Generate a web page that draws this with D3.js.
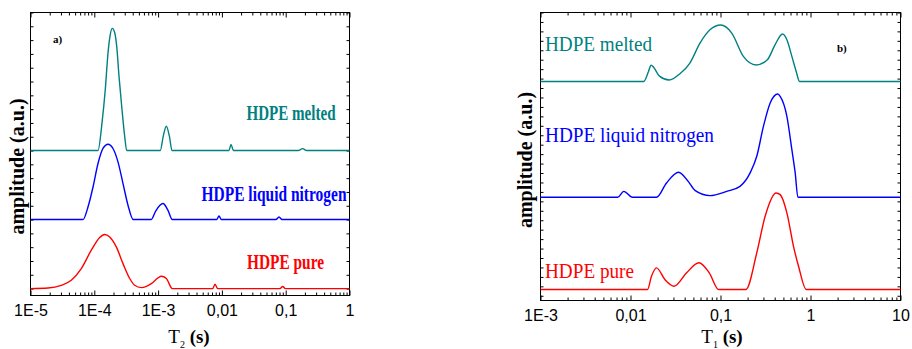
<!DOCTYPE html>
<html><head><meta charset="utf-8">
<script src="https://cdn.jsdelivr.net/npm/d3@7"></script>
<style>body{margin:0;background:#fff}svg{display:block}</style>
</head><body><svg id="c" width="912" height="349"></svg>
<script>
// ---------- data ----------
const seriesNames = ["HDPE melted", "HDPE liquid nitrogen", "HDPE pure"];
const seriesColors = ["#008080", "#0000ff", "#ff0000"];

const t2Ticks = [1e-5, 1e-4, 1e-3, 1e-2, 1e-1, 1];
const t2TickLabels = ["1E-5", "1E-4", "1E-3", "0,01", "0,1", "1"];
const t1Ticks = [1e-3, 1e-2, 1e-1, 1, 10];
const t1TickLabels = ["1E-3", "0,01", "0,1", "1", "10"];

const t2Offsets = [10, 5, 0];
const t1Offsets = [22.7, 10.43, 0.66];

// panel a) T2 distributions  [T2 (s), amplitude]
const t2Melted = [[1e-5,0],[1.143e-4,0],[1.321e-4,2.0],[1.486e-4,4.42],[1.641e-4,7.08],[1.762e-4,8.29],
  [1.914e-4,8.85],[2.089e-4,8.53],[2.244e-4,7.56],[2.438e-4,5.39],[2.716e-4,2.97],[2.992e-4,1.04],
  [3.221e-4,0],[1.081e-3,0],[1.205e-3,1.04],[1.346e-3,1.76],[1.503e-3,1.04],[1.652e-3,0],
  [0.01291,0],[0.01390,0.45],[0.01510,0],[0.1574,0],[0.1845,0.14],[0.2133,0],[1,0]];
const t2Liquid = [[1e-5,0],[6.653e-5,0],[7.962e-5,0.91],[9.55e-5,2.36],[1.143e-4,4.06],[1.368e-4,5.15],
  [1.641e-4,5.46],[1.963e-4,5.15],[2.35e-4,4.18],[2.818e-4,2.61],[3.373e-4,1.04],[4.083e-4,0],
  [7.816e-4,0],[9.162e-4,0.62],[1.194e-3,1.16],[1.429e-3,0.67],[1.671e-3,0],
  [8.279e-3,0],[9.016e-3,0.26],[9.795e-3,0],[0.07047,0],[0.07852,0.19],[0.0875,0],[1,0]];
const t2Pure = [[1e-5,0],[1.879e-5,0.04],[3.041e-5,0.24],[4.355e-5,0.6],[6.252e-5,1.45],[8.974e-5,2.78],
  [1.216e-4,3.70],[1.455e-4,3.92],[1.742e-4,3.74],[2.213e-4,3.02],[2.818e-4,1.81],[3.589e-4,0.73],
  [4.295e-4,0.24],[5.458e-4,0.07],[7.816e-4,0.36],[9.954e-4,0.77],[1.122e-3,0.89],[1.346e-3,0.73],
  [1.671e-3,0],[7.178e-3,0],[7.798e-3,0.32],[8.59e-3,0],[0.08147,0],[0.08974,0.15],[0.09863,0],[1,0]];

// panel b) T1 distributions  [T1 (s), amplitude]
const t1Melted = [[1e-3,0],[0.01406,0],[0.01585,1.06],[0.01694,1.72],[0.02118,0.53],[0.02685,0.15],
  [0.0354,0.81],[0.04571,1.95],[0.05916,4.06],[0.07638,5.47],[0.1005,5.97],[0.1334,5.12],
  [0.1795,2.65],[0.2489,1.74],[0.3319,2.30],[0.4046,3.9],[0.4887,5.02],[0.5466,4.41],
  [0.6209,2.65],[0.6934,1.06],[0.7551,0],[10,0]];
const t1Liquid = [[1e-3,0],[7.211e-3,0],[8.414e-3,0.63],[0.01052,0],[0.01945,0],[0.02512,1.52],
  [0.0342,2.65],[0.04375,1.69],[0.052,0.74],[0.07638,0.18],[0.1172,0.63],[0.1648,1.16],
  [0.2133,2.58],[0.2529,4.34],[0.2999,7.51],[0.3565,9.99],[0.4335,10.94],[0.4603,10.69],
  [0.5466,8.57],[0.6209,5.05],[0.6761,2.58],[0.7244,0],[10,0]];
const t1Pure = [[1e-3,0],[0.01545,0],[0.0171,1.41],[0.01945,2.30],[0.0241,1.06],[0.03055,0.35],
  [0.04198,1.77],[0.05754,2.83],[0.07499,1.77],[0.0955,0],[0.191,0],[0.2529,3.88],[0.3133,7.76],
  [0.415,10.23],[0.4603,10.05],[0.5466,8.12],[0.6471,4.58],[0.7362,2.47],[0.8974,0],[10,0]];

// ---------- drawing ----------
const svg = d3.select("#c");
svg.append("rect").attr("width", 912).attr("height", 349).attr("fill", "#fff");

function panel(cfg) {
  const x = d3.scaleLog().domain(cfg.xDomain).range(cfg.xRange);
  const y = d3.scaleLinear().domain(cfg.yDomain).range(cfg.yRange);
  const g = svg.append("g");
  const [x0, x1] = cfg.xRange, [y0, y1] = cfg.yRange;
  const allT = x.ticks();
  const isMajor = v => Math.abs(Math.log10(v) - Math.round(Math.log10(v))) < 1e-6;
  const minor = allT.filter(v => !isMajor(v));
  const fmt = v => cfg.tickLabels[cfg.ticks.findIndex(t => Math.abs(t - v) / t < 1e-6)];
  const yT = d3.range(Math.ceil(cfg.yDomain[0]), Math.floor(cfg.yDomain[1]) + 1);

  const style = sel => { sel.select(".domain").remove(); sel.selectAll("line").attr("stroke", "#000"); };
  g.append("g").attr("transform", `translate(0,${y0})`)
    .call(d3.axisBottom(x).tickValues(minor).tickSize(-3).tickFormat("")).call(style);
  g.append("g").attr("transform", `translate(0,${y0})`)
    .call(d3.axisBottom(x).tickValues(cfg.ticks).tickSize(-5).tickPadding(9).tickFormat(fmt))
    .call(style)
    .call(s => s.selectAll("text").attr("font-family", "Liberation Sans, Arial, sans-serif")
      .attr("font-size", 16).attr("fill", "#000"));
  g.append("g").attr("transform", `translate(0,${y1})`)
    .call(d3.axisTop(x).tickValues(minor).tickSize(-3).tickFormat("")).call(style);
  g.append("g").attr("transform", `translate(0,${y1})`)
    .call(d3.axisTop(x).tickValues(cfg.ticks).tickSize(-5).tickFormat("")).call(style);
  g.append("g").attr("transform", `translate(${x0},0)`)
    .call(d3.axisLeft(y).tickValues(yT).tickSize(-3).tickFormat("")).call(style);
  g.append("g").attr("transform", `translate(${x1},0)`)
    .call(d3.axisRight(y).tickValues(yT).tickSize(-3).tickFormat("")).call(style);

  g.append("rect").attr("x", x0).attr("y", y1).attr("width", x1 - x0).attr("height", y0 - y1)
    .attr("fill", "none").attr("stroke", "#000").attr("stroke-width", 1);

  cfg.series.forEach((s, i) => {
    const line = d3.line().x(d => x(d[0])).y(d => y(d[1] + cfg.offsets[i])).curve(d3.curveMonotoneX);
    g.append("path").attr("d", line(s)).attr("fill", "none")
      .attr("stroke", seriesColors[i]).attr("stroke-width", 1.4).attr("stroke-linejoin", "round");
  });

  cfg.labels.forEach((l, i) => {
    g.append("text").attr("x", l[0]).attr("y", l[1]).text(seriesNames[i])
      .attr("fill", seriesColors[i]).attr("font-family", "Liberation Serif, Times New Roman, serif")
      .attr("font-size", cfg.labelSize).attr("font-weight", cfg.labelWeight)
      .attr("textLength", l[2]).attr("lengthAdjust", "spacingAndGlyphs");
  });

  g.append("text").attr("x", cfg.tag[0]).attr("y", cfg.tag[1]).text(cfg.tag[2])
    .attr("font-family", "Liberation Serif, serif").attr("font-weight", "bold").attr("font-size", 11);

  const xt = g.append("text").attr("x", cfg.xTitle[0]).attr("y", 343).attr("text-anchor", "middle")
    .attr("font-family", "Liberation Serif, Times New Roman, serif").attr("font-size", 19).attr("fill", "#000");
  xt.append("tspan").text("T");
  xt.append("tspan").text(cfg.xTitle[1]).attr("font-size", 10).attr("dy", 5);
  xt.append("tspan").text(" (s)").attr("font-weight", "bold").attr("dy", -5);

  g.append("text").attr("transform", `translate(${cfg.yTitle[0]},${cfg.yTitle[1]}) rotate(-90)`)
    .attr("text-anchor", "middle").text("amplitude (a.u.)")
    .attr("font-family", "Liberation Serif, Times New Roman, serif").attr("font-weight", "bold")
    .attr("font-size", 20).attr("fill", "#000");
}

panel({
  xDomain: [1e-5, 1], xRange: [30.5, 349.5], yDomain: [-0.5, 20], yRange: [295.5, 12.5],
  ticks: t2Ticks, tickLabels: t2TickLabels, offsets: t2Offsets,
  series: [t2Melted, t2Liquid, t2Pure],
  labels: [[246.5, 120, 89], [201.5, 201, 145], [247, 268.5, 77]], labelSize: 20, labelWeight: "bold",
  tag: [53, 43, "a)"], xTitle: [189, "2"], yTitle: [24, 166.5]
});
panel({
  xDomain: [1e-3, 10], xRange: [540.5, 900.5], yDomain: [-0.5, 30], yRange: [300.5, 12.5],
  ticks: t1Ticks, tickLabels: t1TickLabels, offsets: t1Offsets,
  series: [t1Melted, t1Liquid, t1Pure],
  labels: [[545, 50.5, 107], [545, 141.5, 169], [545, 278.3, 89]], labelSize: 22, labelWeight: "normal",
  tag: [837, 52, "b)"], xTitle: [722, "1"], yTitle: [532, 160]
});
</script></body></html>
